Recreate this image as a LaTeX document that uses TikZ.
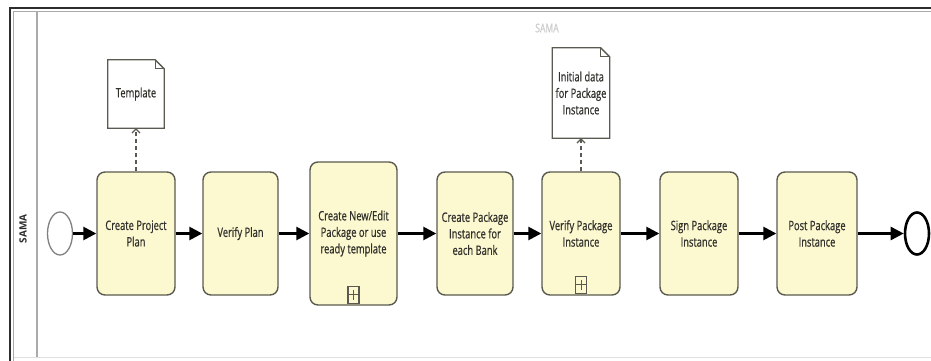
\documentclass[tikz,border=0pt]{standalone}
\usepackage{fontspec}
\newfontfamily\bpmnfont[FakeStretch=0.72, FakeBold=0.6]{Open Sans}
\newfontfamily\lanefont{Open Sans}
\usetikzlibrary{positioning, arrows.meta, shapes.geometric}
\definecolor{taskfill}{RGB}{252,248,208}
\definecolor{taskline}{RGB}{90,90,80}
\definecolor{textgray}{RGB}{50,50,45}
\definecolor{framedark}{RGB}{45,45,45}
\definecolor{framelight}{RGB}{170,170,170}

\begin{document}
\begin{tikzpicture}[
            x=1pt, y=-1pt,
            task/.style={draw=taskline, fill=taskfill, line width=1.4pt, rounded corners=8pt,
                minimum width=78pt, minimum height=123pt, inner sep=1pt, align=center,
                text=textgray, font=\bpmnfont\fontsize{13}{16.5}\selectfont},
            docnode/.style={minimum width=56pt, minimum height=68pt, inner sep=1pt, align=center,
                text=textgray, font=\bpmnfont\fontsize{13}{16.5}\selectfont},
            docline/.style={draw=taskline, line width=1.3pt},
            subbox/.style={draw=taskline, line width=1.1pt, minimum width=11pt, minimum height=17pt, inner sep=0pt},
            startevent/.style={ellipse, draw=gray, line width=1.3pt, minimum width=25pt, minimum height=43pt, inner sep=0pt},
            endevent/.style={ellipse, draw=black, line width=2.6pt, minimum width=24pt, minimum height=42pt, inner sep=0pt},
            flow/.style={draw=black, line width=2.6pt, -{Triangle[length=13pt,width=13pt]}},
            assoc/.style={draw=taskline, line width=1.6pt, dash pattern=on 4pt off 3pt, -{Straight Barb[length=4pt,width=8pt,line width=1.2pt]}},
        ]
            \useasboundingbox (0,0) rectangle (931,361);

            \draw[framedark, line width=1.8pt] (931,8) -- (10,8) -- (10,361);
            \draw[framelight, line width=1pt] (931,11.5) -- (13.5,11.5) -- (13.5,361);
            \draw[framelight, line width=1.2pt] (37,11.5) -- (37,357);
            \draw[gray!25, line width=0.8pt] (13.5,357) -- (931,357);

            \node[rotate=90, text=framedark, font=\lanefont\bfseries\fontsize{10}{11}\selectfont] (lane) at (23,229) {SAMA};
            \node[text=gray!40, font=\bpmnfont\fontsize{12}{14}\selectfont] (pool) at (547,28) {SAMA};

            \node[startevent] (start) at (60,233.5) {};
            \node[task] (cpp) at (136,233.5) {Create Project\\Plan};
            \node[task, minimum width=75pt] (vp) at (240.5,233.5) {Verify Plan};
            \node[task, minimum width=87pt, minimum height=143pt] (cne) at (353.5,233.5) {Create New/Edit\\Package or use\\ready template};
            \node[task, minimum width=76pt] (cpi) at (475,233.5) {Create Package\\Instance for\\each Bank};
            \node[task] (vpi) at (581,233.5) {Verify Package\\Instance};
            \node[task] (spi) at (699,233.5) {Sign Package\\Instance};
            \node[task, minimum width=80pt] (ppi) at (817,233.5) {Post Package\\Instance};
            \node[endevent] (end) at (917,233.5) {};

            \node[subbox, above=2pt of cne.south] (cnesub) {};
            \node[subbox, above=2pt of vpi.south] (vpisub) {};
            \foreach \m in {cnesub, vpisub} {
                \draw[taskline, line width=1pt] (\m.west) -- (\m.east);
                \draw[taskline, line width=1pt] ([yshift=-4pt]\m.north) -- ([yshift=4pt]\m.south);
            }

            \node[docnode] (tpl) at (136,94) {Template};
            \node[docnode, minimum width=57pt, minimum height=90pt] (ini) at (581,93) {Initial data\\for Package\\Instance};
            \foreach \d in {tpl, ini} {
                \draw[docline] (\d.south west) -- (\d.north west) -- ([xshift=-9pt]\d.north east)
                    -- ([yshift=-9pt]\d.north east) -- (\d.south east) -- cycle;
                \draw[docline, line width=0.9pt] ([xshift=-9pt]\d.north east) |- ([yshift=-9pt]\d.north east);
            }

            \draw[flow] (start) -- (cpp);
            \draw[flow] (cpp) -- (vp);
            \draw[flow] (vp) -- (cne);
            \draw[flow] (cne) -- (cpi);
            \draw[flow] (cpi) -- (vpi);
            \draw[flow] (vpi) -- (spi);
            \draw[flow] (spi) -- (ppi);
            \draw[flow] (ppi) -- (end);

            \draw[assoc] (cpp) -- (tpl);
            \draw[assoc] (vpi) -- (ini);
        \end{tikzpicture}
\end{document}
